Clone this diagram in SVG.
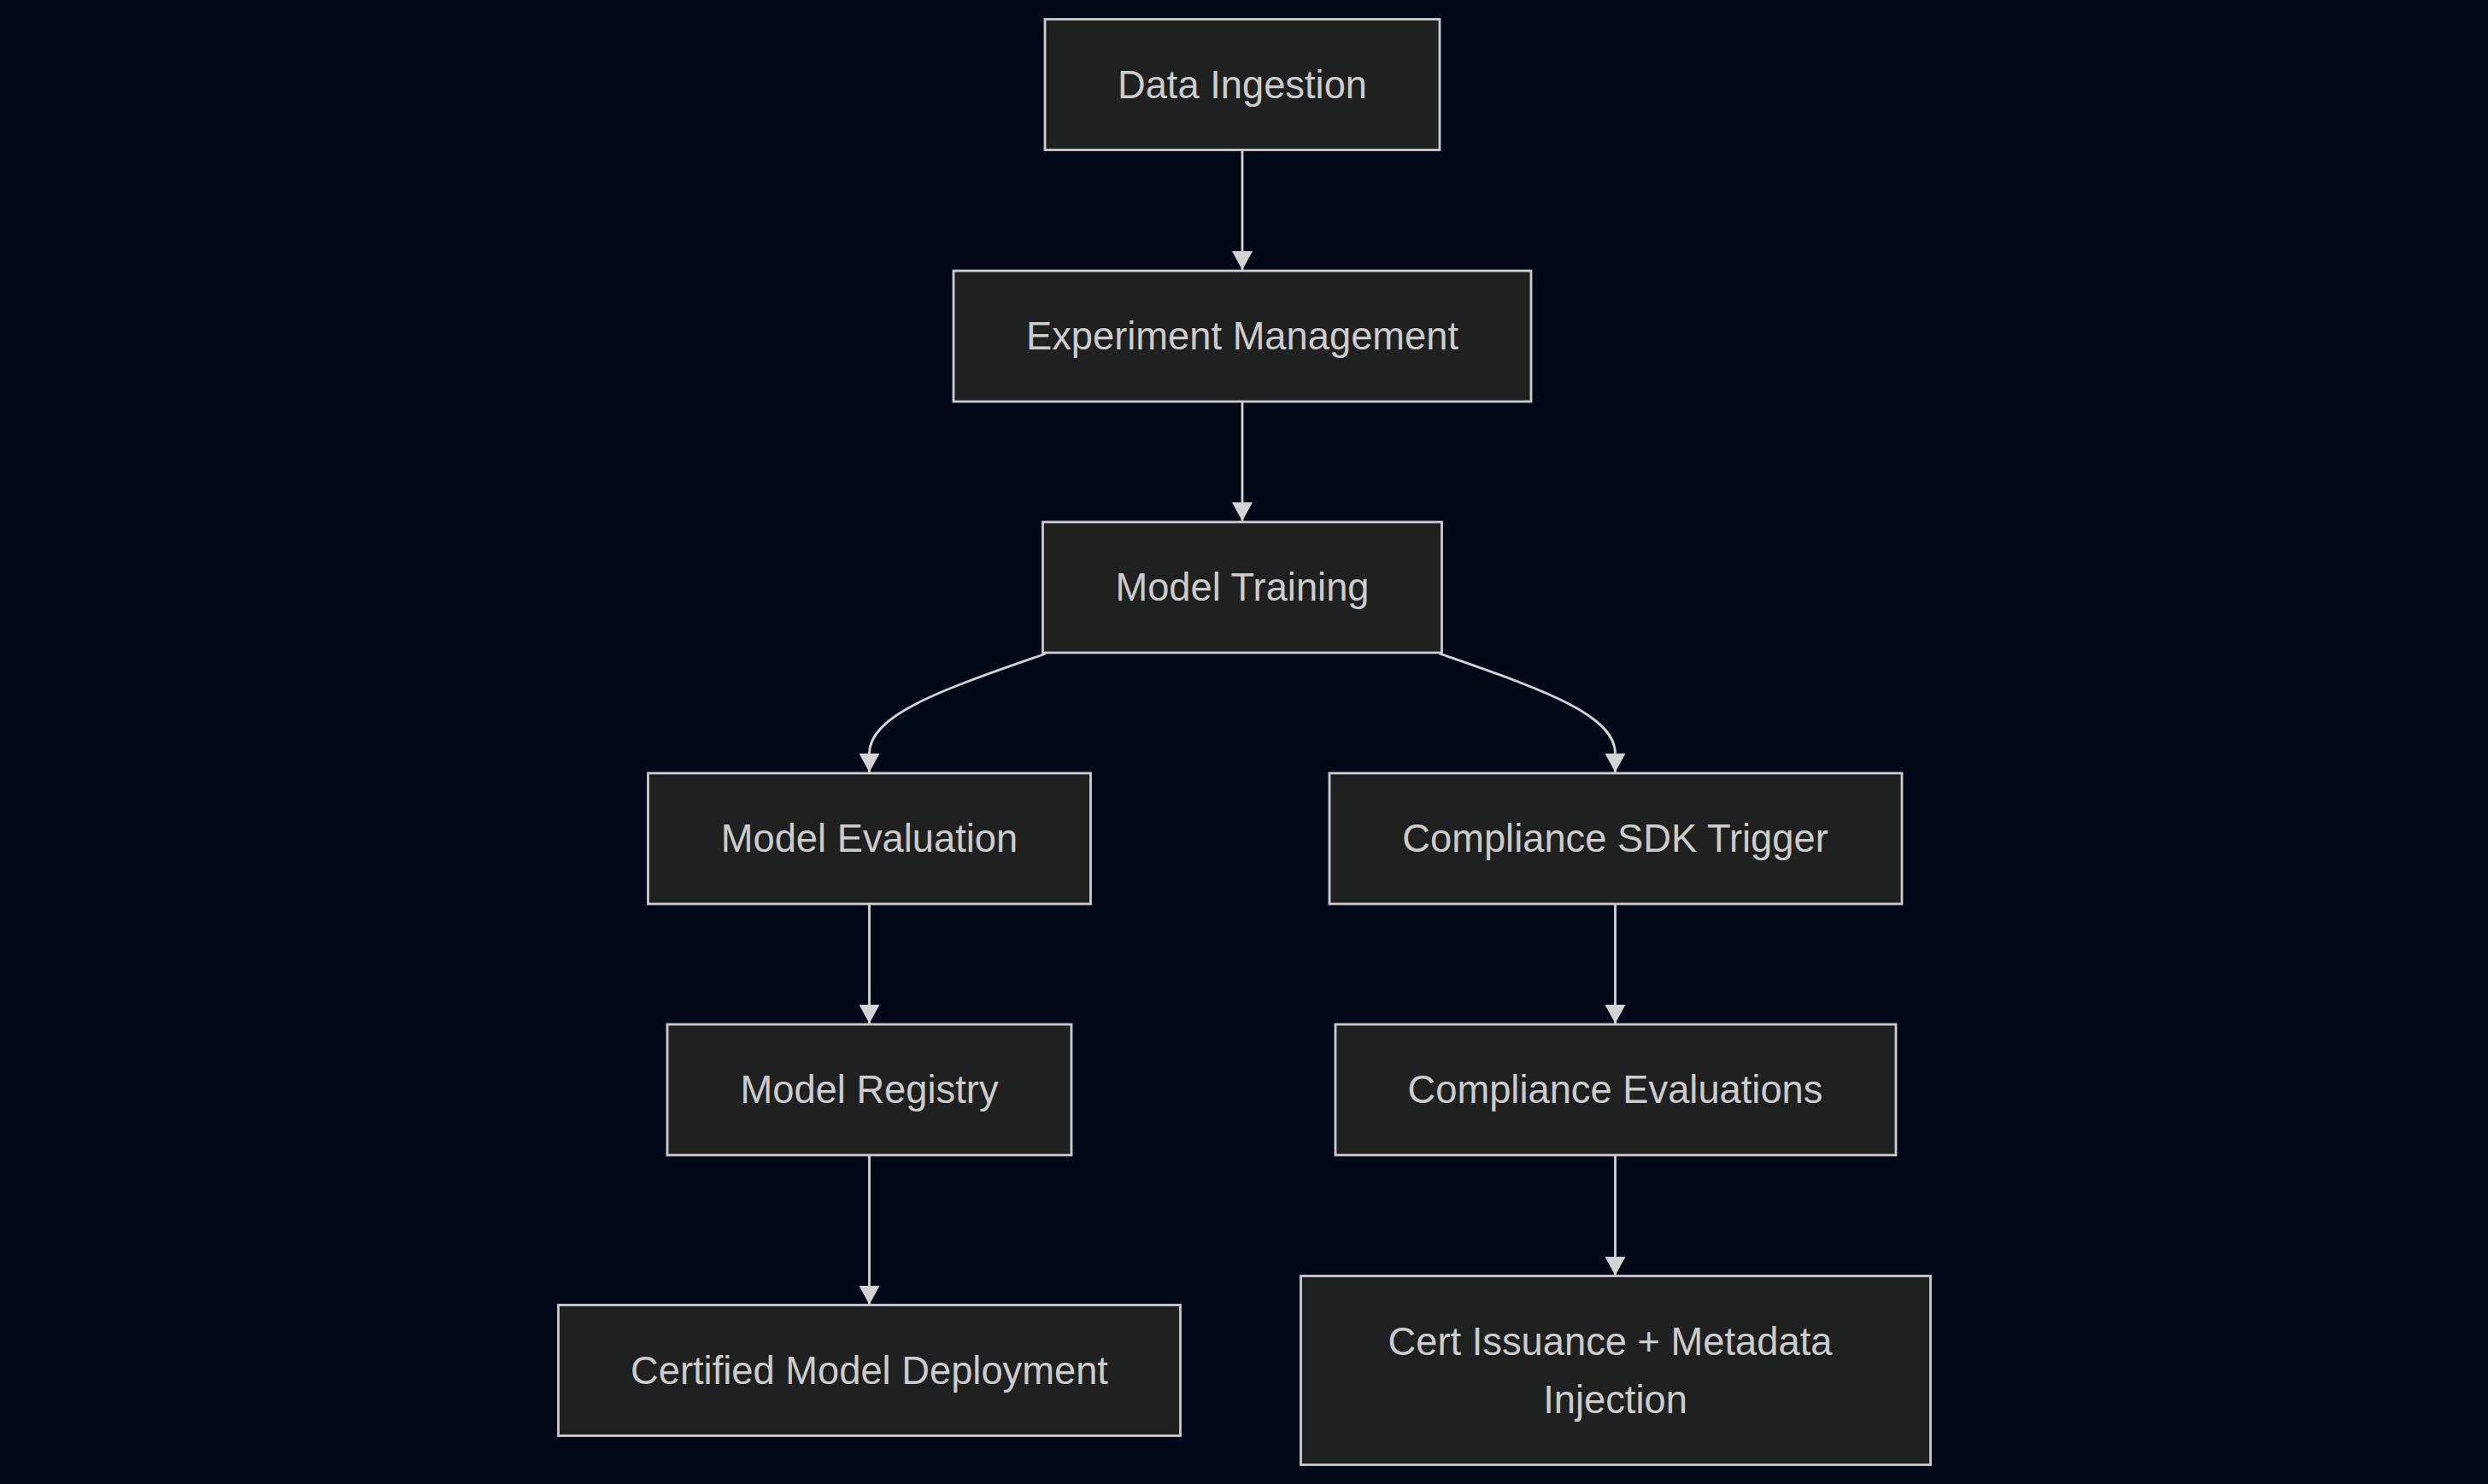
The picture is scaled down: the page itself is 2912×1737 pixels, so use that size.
<svg xmlns="http://www.w3.org/2000/svg" width="2912" height="1737" viewBox="0 0 2912 1737">
<style>
.node rect{fill:#1f2020;stroke:#cccccc;stroke-width:2.8}
.node text{fill:#cccccc;font-family:"Liberation Sans",Arial,sans-serif;font-size:45.3px;text-anchor:middle}
.edge{fill:none;stroke:#d3d3d3;stroke-width:2.8}
</style>
<defs>
<marker id="arrow" viewBox="0 0 10 10" refX="10" refY="5" markerUnits="userSpaceOnUse" markerWidth="22" markerHeight="24" preserveAspectRatio="none" orient="auto">
<path d="M0,0 L10,5 L0,10 z" fill="#d3d3d3"/>
</marker>
</defs>
<rect x="0" y="0" width="2912" height="1737" fill="#010817"/>
<g id="connectors">
<path class="edge" d="M1454,176 L1454,316" marker-end="url(#arrow)"/>
<path class="edge" d="M1454,470 L1454,610" marker-end="url(#arrow)"/>
<path class="edge" d="M1224,765 C1110,805 1017.5,835 1017.5,882 L1017.5,904" marker-end="url(#arrow)"/>
<path class="edge" d="M1685,765 C1799,805 1890.5,835 1890.5,882 L1890.5,904" marker-end="url(#arrow)"/>
<path class="edge" d="M1017.5,1058 L1017.5,1198" marker-end="url(#arrow)"/>
<path class="edge" d="M1890.5,1058 L1890.5,1198" marker-end="url(#arrow)"/>
<path class="edge" d="M1017.5,1352 L1017.5,1527" marker-end="url(#arrow)"/>
<path class="edge" d="M1890.5,1352 L1890.5,1493" marker-end="url(#arrow)"/>
</g>
<g id="node-data-ingestion" class="node">
<rect x="1223" y="22.5" width="462" height="153"/>
<text x="1454" y="114.7">Data Ingestion</text>
</g>
<g id="node-experiment-management" class="node">
<rect x="1116" y="317" width="676" height="153"/>
<text x="1454" y="409.2">Experiment Management</text>
</g>
<g id="node-model-training" class="node">
<rect x="1220.5" y="611" width="467" height="153"/>
<text x="1454" y="703.2">Model Training</text>
</g>
<g id="node-model-evaluation" class="node">
<rect x="758.5" y="905" width="518" height="153"/>
<text x="1017.5" y="997.2">Model Evaluation</text>
</g>
<g id="node-compliance-sdk-trigger" class="node">
<rect x="1556" y="905" width="670" height="153"/>
<text x="1890.5" y="997.2">Compliance SDK Trigger</text>
</g>
<g id="node-model-registry" class="node">
<rect x="781" y="1199" width="473" height="153"/>
<text x="1017.5" y="1291.2">Model Registry</text>
</g>
<g id="node-compliance-evaluations" class="node">
<rect x="1563" y="1199" width="656" height="153"/>
<text x="1890.5" y="1291.2">Compliance Evaluations</text>
</g>
<g id="node-certified-model-deployment" class="node">
<rect x="653.5" y="1527.5" width="728" height="153"/>
<text x="1017.5" y="1619.7">Certified Model Deployment</text>
</g>
<g id="node-cert-issuance" class="node">
<rect x="1522.5" y="1493.5" width="737" height="221"/>
<text x="1884.5" y="1585.7">Cert Issuance + Metadata</text>
<text x="1890.5" y="1653.7">Injection</text>
</g>
</svg>
